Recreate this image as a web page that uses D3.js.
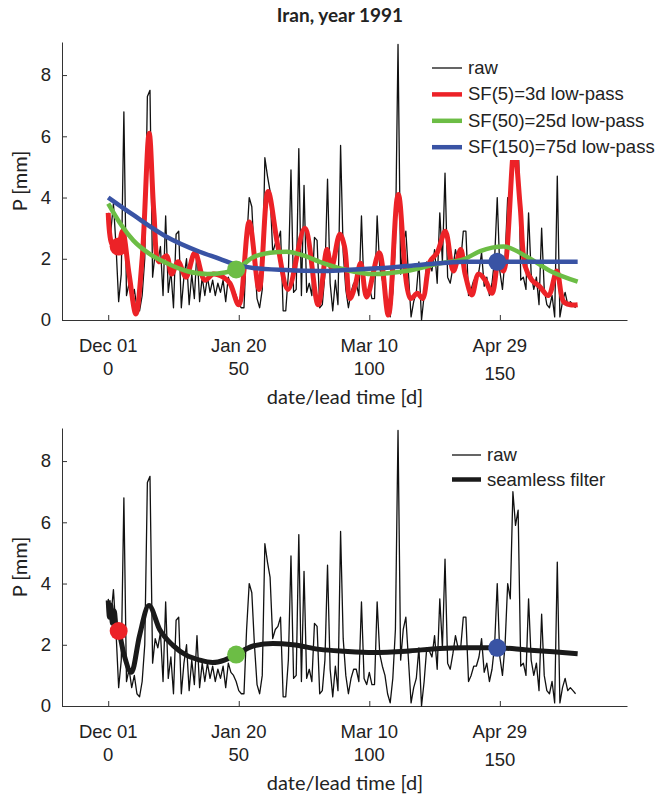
<!DOCTYPE html>
<html>
<head>
<meta charset="utf-8">
<script src="https://cdn.jsdelivr.net/npm/d3@7"></script>
<style>
  body { margin: 0; background: #fff; }
  .tick text, .lab { font-family: "Liberation Sans", Arial, sans-serif; font-size: 18.5px; fill: #222; }
  .ttl { font-family: Lato, sans-serif; font-weight: bold; font-size: 19px; fill: #222; }
  .axl { font-family: Lato, sans-serif; font-size: 20px; fill: #222; }
  .domain, .tick line { stroke: #333; }
</style>
</head>
<body>
<script>
var width = 668, height = 796;

// daily raw precipitation, day 0 .. 179
var rawP = [3.5, 2.9, 3.8, 2.4, 0.6, 1.5, 6.8, 0.8, 1.2, 0.6,
  1.0, 0.4, 0.3, 0.8, 2.0, 7.3, 7.5, 1.4, 2.2, 1.9,
  2.4, 0.8, 3.4, 0.9, 1.6, 0.4, 2.8, 2.9, 0.4, 1.4,
  2.0, 0.5, 1.5, 0.7, 2.3, 0.6, 1.4, 0.8, 1.4, 0.9,
  1.3, 0.8, 1.2, 0.9, 1.3, 0.6, 1.4, 1.1, 1.0, 0.8,
  0.5, 0.4, 0.4, 2.5, 4.0, 3.7, 2.0, 0.7, 0.4, 1.0,
  5.3, 4.7, 4.2, 2.2, 2.5, 2.6, 2.9, 0.3, 0.3, 1.5,
  4.9, 0.9, 1.0, 5.6, 0.8, 4.4, 0.9, 1.2, 0.8, 2.7,
  2.6, 0.4, 0.5, 1.5, 4.6, 1.2, 0.3, 1.3, 0.5, 5.7,
  2.2, 1.0, 0.4, 0.9, 1.2, 1.2, 0.8, 3.4, 0.9, 0.7,
  1.1, 0.7, 0.7, 3.4, 1.7, 1.3, 1.0, 0.4, 0.1, 0.9,
  2.5, 9.0, 1.5, 2.5, 2.9, 1.5, 0.1, 0.6, 0.9, 1.9,
  0.0, 0.8, 1.9, 1.8, 1.6, 2.3, 1.2, 3.5, 1.9, 4.8,
  1.4, 1.2, 1.7, 2.3, 1.9, 1.9, 2.9, 2.9, 0.8, 1.0,
  1.3, 1.3, 1.6, 2.2, 1.1, 1.4, 0.8, 1.2, 2.0, 4.0,
  1.6, 1.0, 2.0, 4.0, 3.5, 7.0, 5.9, 6.4, 1.3, 1.4,
  1.0, 3.5, 1.5, 1.0, 1.4, 0.5, 3.0, 1.0, 0.5, 0.4,
  0.8, 0.1, 4.7, 0.1, 0.6, 0.9, 0.5, 0.6, 0.5, 0.4];

var sf5Days = [0, 1.3, 3, 4, 5.5, 8, 10.6, 13, 15.7, 17.5, 19.5, 22.3, 24.3, 26.8, 29.8, 33.2, 37, 40.2, 44, 46.6,
  50, 54, 57.8, 61.2, 65, 68.9, 75.3, 80.4, 83.8, 85.5, 88.7, 90.5, 92.6, 94.5, 96.7, 99, 103.8, 107.3, 111.1, 115.8,
  118.4, 120.4, 123.2, 126, 129.1, 132.2, 135, 136.7, 139.3, 141.8, 144.4, 147, 149.5, 151.4, 155.5, 157.8, 159.7, 162.3, 165.2, 168.6,
  171.8, 174.4, 177, 179.8];
var sf5Vals = [3.5, 2.5, 2.3, 2.4, 2.9, 1.5, 0.2, 2.0, 6.1, 3.5, 1.9, 2.1, 1.5, 1.9, 1.4, 2.2, 1.3, 1.5, 1.4, 1.2,
  0.5, 3.2, 1.0, 4.2, 2.4, 1.0, 3.0, 0.5, 2.3, 1.7, 2.8, 2.4, 0.7, 1.1, 1.85, 0.75, 2.2, 0.16, 4.1, 0.7,
  0.87, 0.7, 1.9, 2.2, 2.9, 1.6, 2.3, 1.5, 0.82, 1.5, 1.3, 0.87, 1.9, 1.6, 5.6, 3.7, 1.75, 1.3, 1.1, 0.8,
  1.6, 0.6, 0.5, 0.5];

var sf50Days = [0, 5, 9.6, 16, 22.3, 30, 38, 44.7, 49, 55.5, 62, 68.3, 75, 81, 90.6, 101.5, 114, 127, 136.6, 142.5, 151.4, 160.3, 169.3, 179.8];
var sf50Vals = [3.8, 3.1, 2.6, 2.15, 1.86, 1.6, 1.5, 1.55, 1.65, 2.05, 2.2, 2.23, 2.1, 1.9, 1.65, 1.5, 1.6, 1.85, 2.0, 2.25, 2.4, 2.07, 1.6, 1.25];

var sf150Days = [0, 9.6, 22.3, 35, 42.7, 49, 55.5, 68, 81, 90.6, 101.5, 114, 127, 136.6, 149, 179.8];
var sf150Vals = [4.0, 3.43, 2.72, 2.23, 2.0, 1.8, 1.7, 1.63, 1.6, 1.63, 1.68, 1.76, 1.85, 1.9, 1.9, 1.9];

var seamDays = [0, 0.5, 1, 1.6, 2.3, 3, 4, 6, 8.9, 12, 15.6, 19.7, 24.8, 29.9, 35, 40, 44.5, 48.9, 55.5, 63.1, 70.7, 81, 90.5, 101.5, 114, 127, 136.5, 148.9, 160.3, 170.5, 179.8];
var seamVals = [3.45, 2.9, 3.3, 2.7, 3.1, 2.6, 2.45, 1.7, 1.1, 2.3, 3.28, 2.5, 1.98, 1.66, 1.5, 1.42, 1.5, 1.68, 1.96, 2.04, 2.0, 1.85, 1.79, 1.75, 1.79, 1.88, 1.9, 1.9, 1.83, 1.77, 1.71];

var dotDays = [4, 49, 149];
var dotTop = [2.4, 1.65, 1.9];
var dotBottom = [2.45, 1.68, 1.9];
var dotColors = ["#ec2227", "#6cbd45", "#3953a4"];

var leadTicks = [0, 50, 100, 150];
var dateLabels = ["Dec 01", "Jan 20", "Mar 10", "Apr 29"];
var yTicks = [0, 2, 4, 6, 8];

var svg = d3.select("body")
    .append("svg")
    .attr("width", width)
    .attr("height", height);

var x = d3.scaleLinear().domain([-17.7, 198.7]).range([62, 627]);

function zip(a, b) { return a.map(function(d, i){ return [d, b[i]]; }); }
var rawPts = rawP.map(function(v, i){ return [i, v]; });

function panel(y0, y1) {
  var y = d3.scaleLinear().domain([0, 9.08]).range([y0, y1]);
  var g = svg.append("g");

  g.append("g")
    .attr("transform", "translate(0," + y0 + ")")
    .call(d3.axisBottom(x).tickValues(leadTicks).tickSizeInner(-5).tickSizeOuter(0).tickFormat(""));

  g.append("g")
    .attr("transform", "translate(62,0)")
    .call(d3.axisLeft(y).tickValues(yTicks).tickSizeInner(-5).tickSizeOuter(0).tickPadding(11));

  // two-line tick labels: date and lead time
  g.append("g").selectAll("text.date")
    .data(leadTicks)
  .enter().append("text")
    .attr("class", "lab")
    .attr("x", function(d){ return x(d); })
    .attr("y", y0 + 32)
    .attr("text-anchor", "middle")
    .text(function(d, i){ return dateLabels[i]; });

  g.append("g").selectAll("text.lead")
    .data(leadTicks)
  .enter().append("text")
    .attr("class", "lab")
    .attr("x", function(d){ return x(d); })
    .attr("y", function(d){ return y0 + (d == 150 ? 60 : 55); })
    .attr("text-anchor", "middle")
    .text(function(d){ return d; });

  g.append("text")
    .attr("class", "axl")
    .attr("x", 345)
    .attr("y", y0 + 84)
    .attr("text-anchor", "middle")
    .text("date/lead time [d]");

  g.append("text")
    .attr("class", "axl")
    .attr("transform", "translate(27," + ((y0 + y1) / 2) + ") rotate(-90)")
    .attr("text-anchor", "middle")
    .text("P [mm]");

  return {g: g, y: y};
}

function drawLine(p, pts, color, w, curve) {
  var line = d3.line()
    .x(function(d){ return x(d[0]); })
    .y(function(d){ return p.y(d[1]); })
    .curve(curve);
  p.g.append("path")
    .datum(pts)
    .attr("fill", "none")
    .attr("stroke", color)
    .attr("stroke-width", w)
    .attr("stroke-linejoin", "round")
    .attr("d", line);
}

function drawDots(p, vals) {
  p.g.append("g").selectAll("circle")
    .data(dotDays)
  .enter().append("circle")
    .attr("cx", function(d){ return x(d); })
    .attr("cy", function(d, i){ return p.y(vals[i]); })
    .attr("r", 9)
    .attr("fill", function(d, i){ return dotColors[i]; });
}

// legend sits on a white box that hides the lines behind it
function legend(rows, lx, ly, dy, len, box) {
  svg.append("rect")
    .attr("x", box[0]).attr("y", box[1])
    .attr("width", box[2]).attr("height", box[3])
    .attr("fill", "#fff");
  var lg = svg.append("g").selectAll("g")
    .data(rows)
  .enter().append("g")
    .attr("transform", function(d, i){ return "translate(" + lx + "," + (ly + i * dy) + ")"; });
  lg.append("line")
    .attr("x1", 0).attr("x2", len)
    .attr("stroke", function(d){ return d.color; })
    .attr("stroke-width", function(d){ return d.w; });
  lg.append("text")
    .attr("class", "lab")
    .attr("x", len + 6)
    .attr("y", 6)
    .text(function(d){ return d.name; });
}

svg.append("text")
  .attr("class", "ttl")
  .attr("x", 340)
  .attr("y", 22)
  .attr("text-anchor", "middle")
  .text("Iran, year 1991");

// top panel
var topP = panel(320, 42);
drawLine(topP, rawPts, "#111", 1.3, d3.curveLinear);
drawLine(topP, zip(sf5Days, sf5Vals), "#ec2227", 5, d3.curveCatmullRom);
drawLine(topP, zip(sf50Days, sf50Vals), "#6cbd45", 4.5, d3.curveMonotoneX);
drawLine(topP, zip(sf150Days, sf150Vals), "#3953a4", 4.5, d3.curveMonotoneX);
drawDots(topP, dotTop);
legend([
  {name: "raw", color: "#111", w: 1.3},
  {name: "SF(5)=3d low-pass", color: "#ec2227", w: 4.5},
  {name: "SF(50)=25d low-pass", color: "#6cbd45", w: 4.5},
  {name: "SF(150)=75d low-pass", color: "#3953a4", w: 4.5}
], 432, 68, 26.4, 30, [424, 52, 240, 108]);

// bottom panel
var botP = panel(706, 428);
drawLine(botP, rawPts, "#111", 1.3, d3.curveLinear);
drawLine(botP, zip(seamDays, seamVals), "#1a1a1a", 5, d3.curveMonotoneX);
drawDots(botP, dotBottom);
legend([
  {name: "raw", color: "#111", w: 1.3},
  {name: "seamless filter", color: "#1a1a1a", w: 4.5}
], 452, 455, 24.5, 29, [444, 441, 200, 50]);
</script>
</body>
</html>
